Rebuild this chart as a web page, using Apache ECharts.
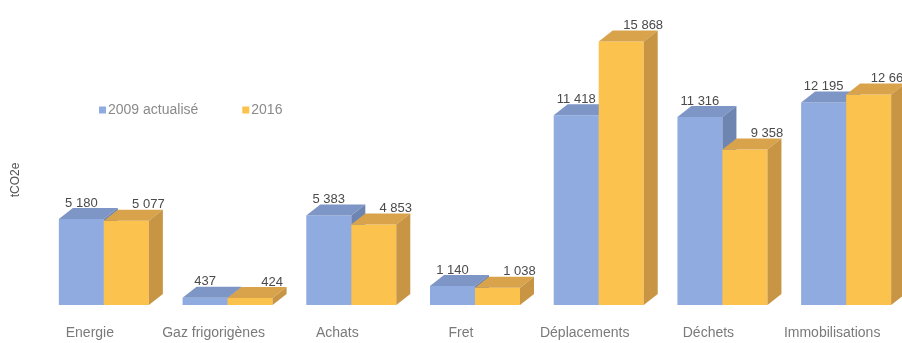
<!DOCTYPE html>
<html>
<head>
<meta charset="utf-8">
<script src="https://cdn.jsdelivr.net/npm/echarts@6/dist/echarts.min.js"></script>
<style>
  html, body { margin: 0; padding: 0; background: #fff; }
  #chart { width: 902px; height: 343px; }
</style>
</head>
<body>
<div id="chart"></div>
<script>
// Émissions par poste (tCO2e)
const categories = ['Energie', 'Gaz frigorigènes', 'Achats', 'Fret', 'Déplacements', 'Déchets', 'Immobilisations'];
const values2009 = [5180, 437, 5383, 1140, 11418, 11316, 12195];
const values2016 = [5077, 424, 4853, 1038, 15868, 9358, 12667];
const seriesNames = ['2009 actualisé', '2016'];

// Pseudo-3D bar geometry
const BAR_W = 45;       // front face width
const SHIFT = 14;       // pair shifted right of the category centre
const DX = 14, DY = 11; // depth of the extrusion

const palettes = [
  { front: '#8fabe0', top: '#7d96c6', side: '#6e85b2' },
  { front: '#fcc24e', top: '#d9a34b', side: '#c79543' }
];

function fmt(v) {
  return String(v).replace(/\B(?=(\d{3})+(?!\d))/g, ' ');
}

function makeRender(idx) {
  const pal = palettes[idx];
  return function (params, api) {
    const c = api.value(0);
    const v = api.value(1);
    const top = api.coord([c, v]);
    const base = api.coord([c, 0]);
    const x0 = top[0] + SHIFT + (idx === 0 ? -BAR_W : 0);
    const x1 = x0 + BAR_W;
    const yT = top[1], yB = base[1];
    const children = [
      { type: 'polygon', shape: { points: [[x0, yB], [x1, yB], [x1, yT], [x0, yT]] },
        style: { fill: pal.front } },
      { type: 'polygon', shape: { points: [[x0, yT], [x1, yT], [x1 + DX, yT - DY], [x0 + DX, yT - DY]] },
        style: { fill: pal.top } },
      { type: 'polygon', shape: { points: [[x1, yB], [x1 + DX, yB - DY], [x1 + DX, yT - DY], [x1, yT]] },
        style: { fill: pal.side } },
      { type: 'text',
        style: {
          text: fmt(v),
          x: (x0 + x1) / 2 + (idx === 0 ? 0 : 22),
          y: yT - 16,
          align: 'center', verticalAlign: 'middle',
          fill: '#4a4a4a', fontSize: 13, fontFamily: 'Liberation Sans, Arial, sans-serif'
        } }
    ];
    return { type: 'group', children: children };
  };
}

const chart = echarts.init(document.getElementById('chart'), null, { renderer: 'canvas' });

chart.setOption({
  animation: false,
  backgroundColor: '#ffffff',
  grid: { left: 28, right: 8, top: 6, bottom: 38, containLabel: false },
  legend: {
    data: seriesNames.map((n, i) => ({ name: n, icon: 'rect', itemStyle: { color: palettes[i].front } })),
    left: 94, top: 98,
    itemWidth: 7, itemHeight: 7, itemGap: 44,
    textStyle: { color: '#8a8a8a', fontSize: 14, fontFamily: 'Liberation Sans, Arial, sans-serif', padding: [0, 0, 0, -3] }
  },
  xAxis: {
    type: 'category',
    data: categories,
    axisLine: { show: false },
    axisTick: { show: false },
    axisLabel: {
      color: '#7a7a7a', fontSize: 14, margin: 21, interval: 0,
      fontFamily: 'Liberation Sans, Arial, sans-serif'
    }
  },
  yAxis: {
    type: 'value', min: 0, max: 18000,
    show: false
  },
  graphic: [{
    type: 'text', x: 16, y: 180, rotation: Math.PI / 2,
    style: {
      text: 'tCO2e', fill: '#555', fontSize: 12,
      fontFamily: 'Liberation Sans, Arial, sans-serif',
      align: 'center', verticalAlign: 'middle'
    }
  }],
  series: [
    {
      name: seriesNames[0], type: 'custom', renderItem: makeRender(0),
      itemStyle: { color: palettes[0].front },
      data: values2009.map((v, i) => [i, v]), encode: { x: 0, y: 1 }, z: 2
    },
    {
      name: seriesNames[1], type: 'custom', renderItem: makeRender(1),
      itemStyle: { color: palettes[1].front },
      data: values2016.map((v, i) => [i, v]), encode: { x: 0, y: 1 }, z: 3
    }
  ]
});
</script>
</body>
</html>
